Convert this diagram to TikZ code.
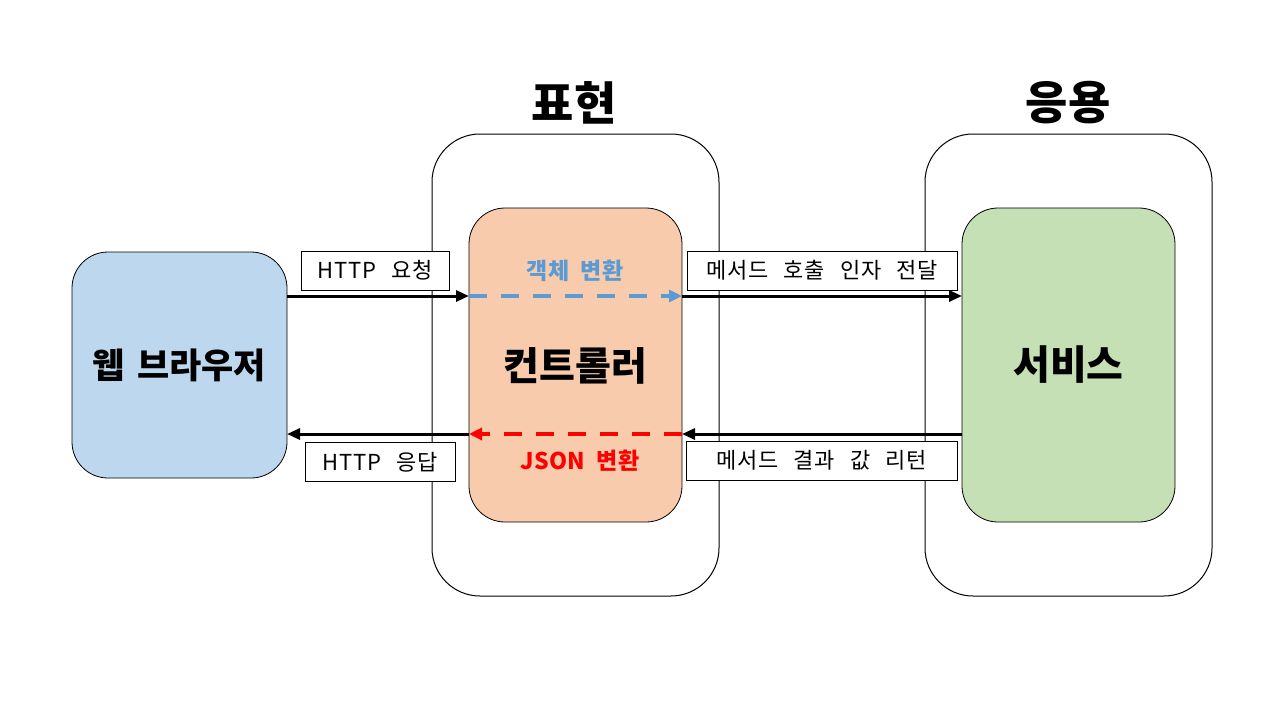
\documentclass[tikz,border=0pt]{standalone}
\usepackage{fontspec}
\setmainfont{Noto Sans CJK KR}
\newfontfamily\lblfont[WordSpace=2.6,LetterSpace=4]{Noto Sans CJK KR}
\newfontfamily\convfont[WordSpace=2,LetterSpace=2]{Noto Sans CJK KR}
\newfontfamily\bigfont[WordSpace=1.5]{Noto Sans CJK KR}
\usetikzlibrary{arrows.meta}
\definecolor{browserfill}{HTML}{BDD7EE}
\definecolor{ctrlfill}{HTML}{F8CBAD}
\definecolor{svcfill}{HTML}{C5E0B4}
\definecolor{dblue}{HTML}{5B9BD5}
\definecolor{dred}{HTML}{FF0000}
\tikzset{
  layer/.style={draw, line width=1pt, rounded corners=48pt, minimum width=287pt, minimum height=462pt, inner sep=0pt},
  comp/.style={draw, line width=0.8pt, rounded corners=36pt, inner sep=0pt, font=\bigfont\fontsize{39}{44}\selectfont\bfseries},
  lbl/.style={draw, line width=1pt, fill=white, inner sep=0pt, minimum height=39pt, font=\lblfont\fontsize{22}{26}\selectfont},
  conv/.style={font=\convfont\fontsize{23}{26}\selectfont\bfseries},
  ttl/.style={font=\fontsize{46}{50}\selectfont\bfseries},
  flow/.style={line width=3pt, -{Triangle[length=13pt,width=11pt]}},
  dflow/.style={line width=4pt, dash pattern=on 18pt off 14pt, -{Triangle[length=13pt,width=12pt]}},
}
\begin{document}
\begin{tikzpicture}[x=1pt,y=-1pt]
\useasboundingbox (0,0) rectangle (1280,720);
% layers
\node[layer] (pres) at (575.5,365) {};
\node[layer] (app) at (1068.5,365) {};
\node[ttl] (prestitle) at (574,103) {표현};
\node[ttl] (apptitle) at (1068,103) {응용};
% components
\node[comp, fill=browserfill, minimum width=215pt, minimum height=226pt, font=\bigfont\fontsize{35}{40}\selectfont\bfseries] (browser) at (179.5,365) {웹 브라우저};
\node[comp, fill=ctrlfill, minimum width=213pt, minimum height=314pt] (ctrl) at (575.5,365) {};
\node[font=\bigfont\fontsize{39}{44}\selectfont\bfseries] (ctrltext) at (575.5,366) {컨트롤러};
\node[comp, fill=svcfill, minimum width=213pt, minimum height=314pt, font=\bigfont\fontsize{40}{44}\selectfont\bfseries] (svc) at (1068.5,365) {서비스};
% anchor coordinates
\coordinate (bT) at (287,296);
\coordinate (cLT) at (469,296);
\coordinate (cRT) at (682,296);
\coordinate (sT) at (962,296);
\coordinate (bB) at (287,434);
\coordinate (cLB) at (469,434);
\coordinate (cRB) at (682,434);
\coordinate (sB) at (962,434);
% arrows
\draw[flow] (bT) -- (cLT);
\draw[dflow, dblue] (cLT) -- (cRT);
\draw[flow] (cRT) -- (sT);
\draw[flow] (sB) -- (cRB);
\draw[dflow, dred] (cRB) -- (cLB);
\draw[flow] (cLB) -- (bB);
% labels
\node[lbl, minimum width=148pt] (req) at (375,270.5) {HTTP 요청};
\node[lbl, minimum width=270pt] (call) at (822,270.5) {메서드 호출 인자 전달};
\node[lbl, minimum width=150pt] (resp) at (380,462) {HTTP 응답};
\node[lbl, minimum width=271pt] (ret) at (821.5,460.5) {메서드 결과 값 리턴};
\node[conv, text=dblue] (objconv) at (575,271) {객체 변환};
\node[conv, text=dred] (jsonconv) at (580,461) {JSON 변환};
\end{tikzpicture}
\end{document}
